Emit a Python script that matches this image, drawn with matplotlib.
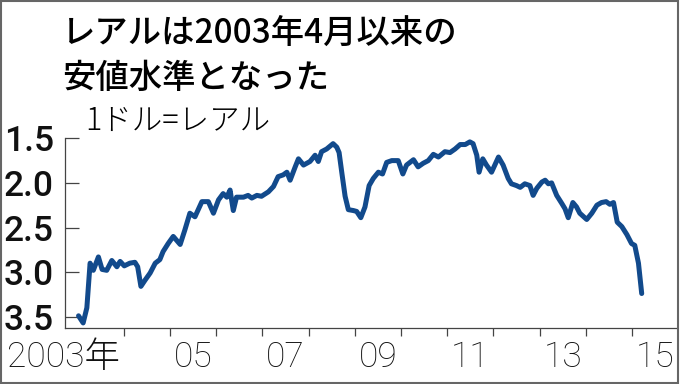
import matplotlib
matplotlib.use('Agg')
import matplotlib.pyplot as plt
from matplotlib.patches import Rectangle

# ---- data (decimal year, BRL per USD) ----
years = [2003.02, 2003.12, 2003.20, 2003.27, 2003.34, 2003.45, 2003.53, 2003.63, 2003.74, 2003.85,
         2003.92, 2004.01, 2004.13, 2004.24, 2004.30, 2004.37, 2004.46, 2004.57, 2004.68, 2004.78,
         2004.85, 2004.96, 2005.07, 2005.22, 2005.32, 2005.43, 2005.54, 2005.69, 2005.83, 2005.94,
         2006.05, 2006.15, 2006.23, 2006.30, 2006.37, 2006.44, 2006.59, 2006.69, 2006.77, 2006.88,
         2006.98, 2007.13, 2007.24, 2007.34, 2007.45, 2007.53, 2007.60, 2007.71, 2007.78, 2007.89,
         2008.03, 2008.14, 2008.21, 2008.28, 2008.39, 2008.53, 2008.61, 2008.66, 2008.72, 2008.79,
         2008.86, 2008.97, 2009.04, 2009.13, 2009.22, 2009.31, 2009.40, 2009.51, 2009.60, 2009.69,
         2009.80, 2009.94, 2010.04, 2010.12, 2010.27, 2010.37, 2010.48, 2010.59, 2010.70, 2010.81,
         2010.95, 2011.06, 2011.17, 2011.28, 2011.39, 2011.49, 2011.56, 2011.64, 2011.69, 2011.77,
         2011.85, 2011.96, 2012.11, 2012.21, 2012.32, 2012.39, 2012.50, 2012.58, 2012.68, 2012.79,
         2012.86, 2012.94, 2013.05, 2013.12, 2013.19, 2013.26, 2013.37, 2013.48, 2013.55, 2013.62,
         2013.72, 2013.80, 2013.87, 2014.02, 2014.13, 2014.24, 2014.34, 2014.44, 2014.52, 2014.60,
         2014.68, 2014.78, 2014.89, 2014.99, 2015.06, 2015.14, 2015.21]
rates = [3.49, 3.57, 3.40, 2.90, 2.98, 2.83, 2.97, 2.98, 2.87, 2.94,
         2.88, 2.93, 2.90, 2.89, 2.94, 3.16, 3.09, 3.01, 2.90, 2.86,
         2.77, 2.68, 2.60, 2.69, 2.53, 2.34, 2.38, 2.21, 2.21, 2.34,
         2.19, 2.12, 2.16, 2.08, 2.31, 2.16, 2.16, 2.14, 2.17, 2.14,
         2.15, 2.10, 2.04, 1.93, 1.91, 1.88, 1.97, 1.82, 1.73, 1.80,
         1.76, 1.69, 1.76, 1.65, 1.62, 1.56, 1.60, 1.66, 1.89, 2.15,
         2.30, 2.31, 2.32, 2.39, 2.27, 2.03, 1.95, 1.88, 1.90, 1.77,
         1.75, 1.75, 1.90, 1.80, 1.74, 1.82, 1.78, 1.75, 1.68, 1.71,
         1.65, 1.66, 1.62, 1.57, 1.57, 1.54, 1.56, 1.69, 1.88, 1.73,
         1.80, 1.88, 1.71, 1.80, 1.95, 2.01, 2.03, 2.05, 2.01, 2.03,
         2.14, 2.06, 1.99, 1.97, 2.01, 2.00, 2.14, 2.23, 2.29, 2.39,
         2.22, 2.27, 2.34, 2.41, 2.34, 2.25, 2.22, 2.21, 2.24, 2.22,
         2.44, 2.49, 2.58, 2.68, 2.70, 2.90, 3.24]

y_ticks = [1.5, 2.0, 2.5, 3.0, 3.5]
y_tick_labels = ['1.5', '2.0', '2.5', '3.0', '3.5']
year_ticks = list(range(2004, 2016))
x_label_pos = [2005.5, 2007.5, 2009.5, 2011.5, 2013.5, 2015.5]
x_labels = ['05', '07', '09', '11', '13', '15']
first_x_label = '2003年'
title_lines = ['レアルは2003年4月以来の', '安値水準となった']
unit_label = '1ドル=レアル'

NUM = ['Roboto', 'Noto Sans CJK JP', 'DejaVu Sans']
JP = ['Noto Sans CJK JP', 'DejaVu Sans']
LINE_COLOR = '#124a8c'
NUM_SIZE = 25.5

W, H = 680, 384
fig = plt.figure(figsize=(W / 100, H / 100), dpi=100)
fig.patch.set_facecolor('white')

ax_l, ax_r, ax_t, ax_b = 65, 677, 138.3, 328.3
ax = fig.add_axes([ax_l / W, 1 - ax_b / H, (ax_r - ax_l) / W, (ax_b - ax_t) / H])
ax.plot(years, rates, color=LINE_COLOR, lw=3.6, solid_joinstyle='round', solid_capstyle='round')

ax.set_xlim(2002.727, 2015.974)
ax.set_ylim(3.63, 1.5)
for s in ['top', 'right']:
    ax.spines[s].set_visible(False)
for s in ['left', 'bottom']:
    ax.spines[s].set_color('#444444')
    ax.spines[s].set_linewidth(0.9)

ax.set_yticks(y_ticks)
ax.set_yticklabels(y_tick_labels, family=NUM, fontsize=NUM_SIZE, weight='medium', color='#111111')
ax.tick_params(axis='y', direction='in', length=10, width=0.9, color='#444444', pad=8)

ax.set_xticks(year_ticks)
ax.set_xticklabels([])
ax.tick_params(axis='x', which='major', direction='out', length=6, width=0.9, color='#444444')
ax.set_xticks(x_label_pos, minor=True)
ax.set_xticklabels(x_labels, minor=True, family=NUM, fontsize=NUM_SIZE, weight='light',
                   color='#111111')
ax.tick_params(axis='x', which='minor', length=0, pad=8.5)

ax.text(2003.92, -12 / (ax_b - ax_t), first_x_label, transform=ax.get_xaxis_transform(),
        ha='right', va='top', fontsize=NUM_SIZE, family=NUM, weight='light', color='#111111')

fig.text(62 / W, 1 - 43 / H, title_lines[0], fontsize=24, family=JP, weight='medium', va='baseline')
fig.text(62 / W, 1 - 88 / H, title_lines[1], fontsize=24, family=JP, weight='medium', va='baseline')
fig.text(85 / W, 1 - 130 / H, unit_label, fontsize=22, family=JP, weight='light', va='baseline')

fig.patches.append(Rectangle((0.5 / W, 1.5 / H), (677.5 - 0.5) / W, (383 - 1.5) / H,
                             transform=fig.transFigure, fill=False, ec='#666666', lw=1.5))

fig.savefig('out.png', dpi=100, facecolor='white')
